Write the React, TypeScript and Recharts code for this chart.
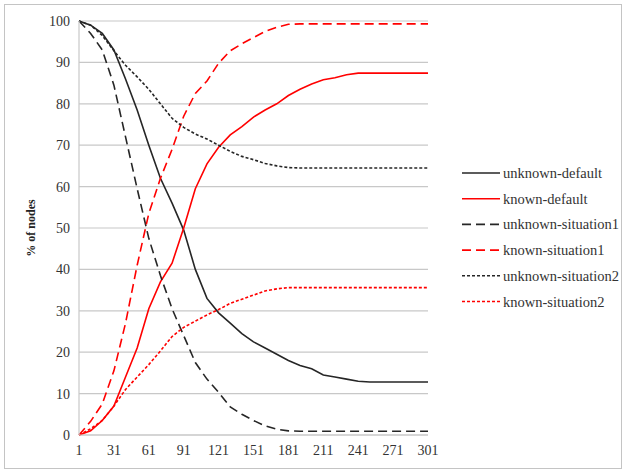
import React from 'react';
import { LineChart, Line, XAxis, YAxis, CartesianGrid } from 'recharts';

// x positions (steps) sampled every 10
const steps = [1, 11, 21, 31, 41, 51, 61, 71, 81, 91, 101, 111, 121, 131, 141, 151, 161, 171, 181, 191, 201, 211, 221, 231, 241, 251, 261, 271, 281, 291, 301];

const unknownDefault = [100, 99, 97, 93, 86, 78.5, 70, 62, 56, 49.5, 40, 33, 29.5, 27, 24.5, 22.5, 21, 19.5, 18, 16.8, 16, 14.5, 14, 13.5, 13, 12.8, 12.8, 12.8, 12.8, 12.8, 12.8];
const knownDefault = [0, 1, 3.5, 7, 14, 21, 30.5, 37, 41.5, 50, 59.5, 65.5, 69.5, 72.5, 74.5, 76.8, 78.5, 80, 82, 83.5, 84.8, 85.8, 86.3, 87, 87.4, 87.4, 87.4, 87.4, 87.4, 87.4, 87.4];
const unknownSituation1 = [100, 97, 93, 84.5, 72, 59.5, 47.5, 38.5, 30.5, 24, 17.5, 13.5, 10.3, 6.8, 5, 3.5, 2.2, 1.4, 1, 0.9, 0.9, 0.9, 0.9, 0.9, 0.9, 0.9, 0.9, 0.9, 0.9, 0.9, 0.9];
const knownSituation1 = [0, 3.3, 7.5, 15.5, 27, 41, 53.5, 62, 69, 77, 82.5, 85.5, 89.8, 92.8, 94.5, 96, 97.5, 98.5, 99.2, 99.3, 99.3, 99.3, 99.3, 99.3, 99.3, 99.3, 99.3, 99.3, 99.3, 99.3, 99.3];
const unknownSituation2 = [100, 99, 96.5, 92.8, 89.3, 86.5, 83.5, 80, 76.5, 74.3, 72.7, 71.5, 70, 68.5, 67.3, 66.5, 65.6, 65, 64.6, 64.5, 64.5, 64.5, 64.5, 64.5, 64.5, 64.5, 64.5, 64.5, 64.5, 64.5, 64.5];
const knownSituation2 = [0, 1.5, 3.5, 7, 11, 14, 17, 20.3, 23.8, 26, 27.5, 29, 30.3, 31.8, 32.8, 33.8, 34.8, 35.3, 35.6, 35.6, 35.6, 35.6, 35.6, 35.6, 35.6, 35.6, 35.6, 35.6, 35.6, 35.6, 35.6];

const xTicks = [1, 31, 61, 91, 121, 151, 181, 211, 241, 271, 301];
const yTicks = [0, 10, 20, 30, 40, 50, 60, 70, 80, 90, 100];

const BLACK = '#262626';
const RED = '#ff0000';
const SERIF = '"Liberation Serif", "Times New Roman", serif';

const series = [
  { key: 'unknown-default', values: unknownDefault, color: BLACK, dash: undefined },
  { key: 'known-default', values: knownDefault, color: RED, dash: undefined },
  { key: 'unknown-situation1', values: unknownSituation1, color: BLACK, dash: '9 5' },
  { key: 'known-situation1', values: knownSituation1, color: RED, dash: '9 5' },
  { key: 'unknown-situation2', values: unknownSituation2, color: BLACK, dash: '3 2' },
  { key: 'known-situation2', values: knownSituation2, color: RED, dash: '3 2' },
];

const data = steps.map((x, i) => {
  const row: Record<string, number> = { x };
  series.forEach((s) => {
    row[s.key] = s.values[i];
  });
  return row;
});

const LegendBox = () => (
  <svg width={170} height={150} style={{ position: 'absolute', left: 455, top: 165 }}>
    {series.map((s, i) => {
      const y = 8 + i * 25.7;
      return (
        <g key={s.key}>
          <line x1={7} x2={45} y1={y} y2={y} stroke={s.color} strokeWidth={1.6} strokeDasharray={s.dash} />
          <text x={48} y={y} dy="0.35em" fontSize={14.5} fontFamily={SERIF} fill="#333">
            {s.key}
          </text>
        </g>
      );
    })}
  </svg>
);

export default function App() {
  return (
    <div
      style={{
        position: 'absolute',
        left: 0,
        top: 0,
        width: 626,
        height: 470,
        background: '#fff',
        fontFamily: SERIF,
      }}
    >
      <div
        style={{
          position: 'absolute',
          left: 4,
          top: 4,
          width: 616,
          height: 463,
          border: '1px solid #c4c4c4',
        }}
      />
      <LineChart
        width={626}
        height={470}
        data={data}
        margin={{ top: 21, right: 198, bottom: 5, left: 19 }}
        style={{ position: 'absolute', left: 0, top: 0 }}
      >
        <CartesianGrid horizontal vertical={false} stroke="#c8c8c8" strokeWidth={1.2} />
        <XAxis
          dataKey="x"
          type="number"
          domain={[1, 301]}
          ticks={xTicks}
          height={30}
          tickLine={false}
          tickSize={0}
          tickMargin={10}
          axisLine={{ stroke: '#c8c8c8', strokeWidth: 1.2 }}
          tick={{ fontSize: 14, fontFamily: SERIF, fill: '#333' }}
        />
        <YAxis
          type="number"
          domain={[0, 100]}
          ticks={yTicks}
          width={60}
          tickLine={false}
          tickSize={0}
          tickMargin={9}
          axisLine={{ stroke: '#c8c8c8', strokeWidth: 1.2 }}
          tick={{ fontSize: 14, fontFamily: SERIF, fill: '#333' }}
          label={{
            value: '% of nodes',
            angle: -90,
            position: 'insideLeft',
            offset: 12,
            style: { fontSize: 12, fontWeight: 700, fontFamily: SERIF, fill: '#222', textAnchor: 'middle' },
          }}
        />
        {series.map((s) => (
          <Line
            key={s.key}
            dataKey={s.key}
            stroke={s.color}
            strokeWidth={1.6}
            strokeDasharray={s.dash}
            dot={false}
            activeDot={false}
            type="linear"
            isAnimationActive={false}
          />
        ))}
      </LineChart>
      <LegendBox />
    </div>
  );
}
